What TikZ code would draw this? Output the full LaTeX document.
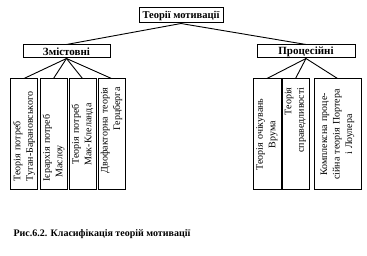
\documentclass[tikz,border=0pt]{standalone}
\usepackage{fontspec}
\setmainfont{Liberation Serif}
\usetikzlibrary{positioning}
\tikzset{box/.style={draw,line width=1pt,inner sep=1pt,font=\fontsize{11}{12}\selectfont\bfseries},
leaf/.style={draw,line width=1pt,rotate=90,minimum width=111pt,inner sep=1pt,text width=94pt,font=\fontsize{10}{12.5}\selectfont},
link/.style={line width=.9pt}}
\begin{document}
\begin{tikzpicture}[x=1pt,y=-1pt]
\useasboundingbox (0,0) rectangle (367,256);
\node[box,minimum width=84pt,minimum height=15pt,font=\fontsize{10.5}{12}\selectfont\bfseries] (top) at (181,15.5){Теорії мотивації};
\node[box,minimum width=87pt,minimum height=13pt] (zmist) at (66.5,51.5){Змістовні};
\node[box,minimum width=98pt,minimum height=13pt] (proc) at (306,51.5){Процесійні};
\draw[link] (top.south)--(zmist.north);\draw[link] (top.south)--(proc.north);
\foreach \x/\a/\t [count=\i] in {24/left/{Теорія потреб\\Туган-Барановського},53.5/left/{Ієрархія потреб\\\hspace{4pt}Маслоу},82.5/center/{Теорія потреб\\Мак-Клеланда},111.5/right/{Двофакторна теорія\\Герцберга}}{
\node[leaf,minimum height=27pt,align=\a] (z\i) at (\x,134.5){\t};\draw[link] (zmist.south)--(z\i.east);}
\foreach \x/\w/\a/\t [count=\i] in {267/28/center/{Теорія очікувань\\Врума},295.5/27/right/{Теорія\\справедливості},337.5/47/center/{Комплексна проце-\\сійна теорія Портера\\і Лоулера}}{
\node[leaf,minimum height=\w pt,align=\a] (p\i) at (\x,134.5){\t};\draw[link] (proc.south)--(p\i.east);}
\node[font=\fontsize{10}{11}\selectfont\bfseries,anchor=west] (caption) at (10,234.5){Рис.6.2. Класифікація теорій мотивації};
\end{tikzpicture}
\end{document}
